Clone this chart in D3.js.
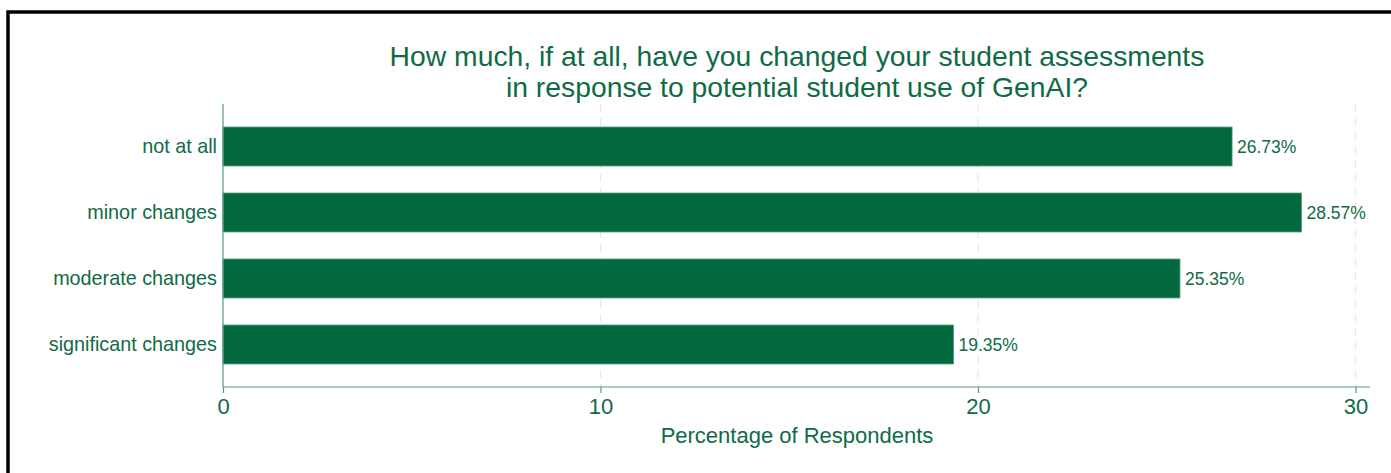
<!DOCTYPE html>
<html>
<head>
<meta charset="utf-8">
<script src="https://cdn.jsdelivr.net/npm/d3@7"></script>
<style>
  html, body { margin: 0; padding: 0; background: #fff; }
  svg { display: block; font-family: "Liberation Sans", Arial, sans-serif; }
</style>
</head>
<body>
<svg id="chart" width="1391" height="473"></svg>
<script>
// Survey responses
const categories = ["not at all", "minor changes", "moderate changes", "significant changes"];
const percentages = [26.73, 28.57, 25.35, 19.35];
const xTicks = [0, 10, 20, 30];
const titleLines = [
  "How much, if at all, have you changed your student assessments",
  "in response to potential student use of GenAI?"
];
const xLabel = "Percentage of Respondents";

const green = "#02693f";
const textGreen = "#0f6b45";
const axisGreen = "#5a9a7e";

const svg = d3.select("#chart");

// outer frame
svg.append("rect")
  .attr("x", 8).attr("y", 12)
  .attr("width", 1400).attr("height", 480)
  .attr("fill", "none").attr("stroke", "#000").attr("stroke-width", 3.5);

const plotLeft = 223, plotRight = 1370, plotTop = 104, plotBottom = 387;

const x = d3.scaleLinear().domain([0, 30]).range([plotLeft, 1355.5]);
const y = d3.scaleBand().domain(categories)
  .range([plotTop + 9.5, plotBottom - 9.5])
  .paddingInner(0.41).paddingOuter(0.205);

// dashed gridlines
svg.append("g").selectAll("line")
  .data(xTicks.filter(d => d > 0))
  .join("line")
  .attr("x1", d => x(d)).attr("x2", d => x(d))
  .attr("y1", plotTop).attr("y2", plotBottom)
  .attr("stroke", "#e6e6e6").attr("stroke-width", 1.2)
  .attr("stroke-dasharray", "8,6");

// bars
svg.append("g").selectAll("rect")
  .data(categories)
  .join("rect")
  .attr("x", x(0))
  .attr("y", d => y(d))
  .attr("width", (d, i) => x(percentages[i]) - x(0))
  .attr("height", y.bandwidth())
  .attr("fill", green)
  .attr("stroke", "#4f9677").attr("stroke-width", 0.8);

// value labels
svg.append("g").selectAll("text")
  .data(categories)
  .join("text")
  .attr("x", (d, i) => x(percentages[i]) + 5)
  .attr("y", d => y(d) + y.bandwidth() / 2)
  .attr("dy", "0.35em")
  .attr("font-size", 17.5)
  .attr("fill", textGreen)
  .text((d, i) => percentages[i].toFixed(2) + "%");

// y axis
const yAxis = svg.append("g")
  .attr("transform", `translate(${plotLeft},0)`)
  .call(d3.axisLeft(y).tickSize(0).tickPadding(6));
yAxis.select(".domain").remove();
yAxis.selectAll("text").attr("font-size", 19.8).attr("fill", textGreen)
  .attr("font-family", "Liberation Sans, Arial, sans-serif");
svg.append("line")
  .attr("x1", plotLeft).attr("x2", plotLeft).attr("y1", plotTop).attr("y2", plotBottom)
  .attr("stroke", axisGreen).attr("stroke-width", 1.2);

// x axis
const xAxis = svg.append("g")
  .attr("transform", `translate(0,${plotBottom})`)
  .call(d3.axisBottom(x).tickValues(xTicks).tickSize(6).tickPadding(5).tickSizeOuter(0));
xAxis.select(".domain").remove();
xAxis.selectAll(".tick line").attr("stroke", axisGreen).attr("stroke-width", 1.2);
xAxis.selectAll("text").attr("font-size", 22).attr("fill", textGreen)
  .attr("font-family", "Liberation Sans, Arial, sans-serif");
svg.append("line")
  .attr("x1", plotLeft).attr("x2", plotRight).attr("y1", plotBottom).attr("y2", plotBottom)
  .attr("stroke", axisGreen).attr("stroke-width", 1.2);

// axis title
svg.append("text")
  .attr("x", 797).attr("y", 443)
  .attr("text-anchor", "middle")
  .attr("font-size", 22).attr("fill", textGreen)
  .text(xLabel);

// chart title
svg.append("g").selectAll("text")
  .data(titleLines)
  .join("text")
  .attr("x", 797)
  .attr("y", (d, i) => 66 + i * 31)
  .attr("text-anchor", "middle")
  .attr("font-size", 28.3).attr("fill", textGreen)
  .text(d => d);
</script>
</body>
</html>
